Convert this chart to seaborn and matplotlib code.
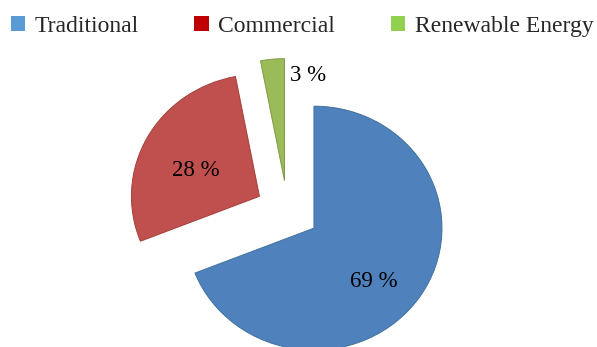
import matplotlib
matplotlib.use("Agg")
import matplotlib.pyplot as plt
from matplotlib.patches import Patch
import seaborn as sns

# Energy mix shares (percent)
categories = ["Traditional", "Commercial", "Renewable Energy"]
shares = [69, 28, 3]

# slice fills and legend swatch colours
slice_colors = ["#4F81BD", "#C0504D", "#9BBB59"]
slice_edges = ["#41719C", "#A33F3C", "#7F9A47"]
legend_colors = ["#5B9BD5", "#C00000", "#92D050"]

# where each percentage label sits (axes data units)
label_xy = [(0.676, -0.574), (-0.715, 0.336), (0.160, 1.107)]

sns.set_theme(style="white")
plt.rcParams["font.family"] = ["Liberation Serif", "DejaVu Serif"]

fig = plt.figure(figsize=(5.97, 3.47), dpi=100)
ax = fig.add_axes([0, 0, 1, 1])

wedges, texts, autotexts = ax.pie(
    shares,
    colors=slice_colors,
    startangle=90,
    counterclock=False,
    explode=[0.25] * len(shares),
    autopct=lambda p: f"{p:.0f} %",
    wedgeprops=dict(linewidth=0.7),
    textprops=dict(fontsize=16.5, color="black"),
)
for w, ec in zip(wedges, slice_edges):
    w.set_edgecolor(ec)
for t, (x, y) in zip(autotexts, label_xy):
    t.set_position((x, y))
    t.set_ha("center")
    t.set_va("center")

ax.set_aspect("auto")
ax.set_xlim(-2.246, 2.418)
ax.set_ylim(-1.115, 1.730)
ax.axis("off")

handles = [Patch(facecolor=c, edgecolor="none") for c in legend_colors]
fig.legend(
    handles, categories,
    loc="upper left", bbox_to_anchor=(-0.006, 0.994),
    ncol=3, frameon=False, fontsize=17,
    handlelength=0.6, handleheight=0.6, handletextpad=0.42,
    columnspacing=2.35, borderaxespad=0.2,
)

fig.savefig("out.png", dpi=100)
